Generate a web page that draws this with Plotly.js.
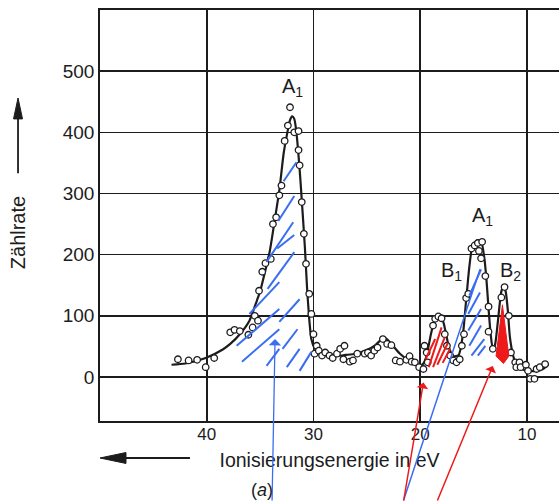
<!DOCTYPE html>
<html><head><meta charset="utf-8">
<script src="https://cdn.plot.ly/plotly-3.0.1.min.js"></script>
<style>html,body{margin:0;padding:0;background:#fff}#plot{width:559px;height:502px}</style>
</head><body><div id="plot"></div>
<script>
// measured points (Ionisierungsenergie in eV, Zählrate)
const pointE = [42.7,41.7,40.9,40.1,39.3,37.8,37.4,36.9,36.1,35.7,35.5,35.2,35.1,34.8,34.5,34.0,33.8,33.5,33.2,33.0,32.7,32.4,32.2,31.8,31.4,31.4,31.3,31.1,30.9,30.7,30.4,30.2,30.0,29.9,29.7,29.5,29.2,28.9,28.5,28.2,27.8,27.5,27.1,27.2,26.6,26.3,25.9,25.2,24.9,24.6,24.3,24.0,23.5,23.1,22.7,22.3,21.9,21.3,21.0,20.8,20.5,20.1,19.7,19.6,19.4,19.3,18.8,18.6,18.3,18.0,17.7,17.5,17.2,16.9,16.6,16.3,16.1,15.9,15.7,15.5,15.2,14.9,14.6,14.2,14.5,14.3,13.9,13.6,13.6,13.2,12.4,12.1,11.7,11.5,11.1,11.0,10.7,10.6,10.1,9.9,9.7,9.3,9.1,8.8,8.3];
const pointV = [29,27,28,16,31,73,77,75,69,81,100,92,141,172,186,193,250,261,297,313,386,411,441,400,402,371,346,286,234,185,136,103,70,38,51,43,35,40,35,31,38,46,51,29,25,27,38,38,40,35,43,48,62,54,52,27,25,28,34,25,24,16,13,51,40,24,84,95,99,96,70,51,35,27,24,29,51,70,129,136,210,215,219,221,206,194,165,115,74,46,130,147,100,40,24,16,24,16,20,10,-3,-3,13,16,21];
// fitted curve
const curveE = [43.3,42.0,40.1,38.5,37.8,36.8,36.0,35.3,35.0,34.5,34.1,33.6,33.2,32.8,32.5,32.2,32.0,31.8,31.6,31.3,31.1,30.8,30.6,30.4,30.2,29.9,29.5,29.0,28.0,27.0,26.1,25.0,24.2,23.6,23.2,22.7,21.9,21.0,20.1,19.7,19.4,19.0,18.7,18.3,17.9,17.6,17.3,16.9,16.4,16.0,15.7,15.4,15.1,14.7,14.3,14.0,13.8,13.6,13.4,13.2,13.0,12.7,12.4,12.2,12.0,11.8,11.6,11.3,11.0,10.5,9.8,9.0,8.5,8.0];
const curveV = [20,22,31,45,54,72,92,125,140,175,205,260,305,365,395,420,426,422,400,340,290,210,145,95,62,47,40,37,34,36,38,44,52,62,63,54,38,26,18,22,35,70,90,99,93,72,48,34,36,70,125,180,215,223,222,195,160,112,70,46,52,95,140,147,140,110,65,35,20,13,10,10,13,20];
const xTicks = [40,30,20,10];
const yTicks = [0,100,200,300,400,500];
const peakLabels = ['A<sub>1</sub>','A<sub>1</sub>','B<sub>1</sub>','B<sub>2</sub>'];
const peakLabelE = [32.0,14.2,17.1,11.5];
const peakLabelV = [474,262,172,173];

// hand-drawn marks (annotation strokes, eV / count)
const blueHatch = [
 [32.8,320,31.6,351],[33.3,255,31.8,296],[34.4,188,31.9,253],[34.3,144,31.8,204],
 [36.0,103,33.2,155],[37.2,51,33.2,111],[36.7,25,33.2,78],[34.4,18,33.2,46],
 [33.2,90,31.3,127],[32.9,46,31.5,78],[32.5,16,31.3,46],[31.3,10,30.2,41],[33.4,210,31.8,232],
 [15.4,133,14.3,176],[15.5,103,14.4,138],[15.5,76,14.3,111],[15.4,51,14.3,84],[15.2,35,14.0,62],[14.6,35,13.9,51]
];
const redHatch = [[19.2,16,18.0,81],[18.8,16,17.7,65],[18.4,20,17.4,56],[17.9,23,17.2,46],[19.5,29,18.6,62]];
const redFillE = [12.9,12.3,11.7,12.2];
const redFillV = [34,118,34,22];

const ink = '#1c1c1c';
const FONT = 'Liberation Sans, Arial, sans-serif';
const traces = [
 {x: curveE, y: curveV, mode: 'lines', line: {shape: 'spline', smoothing: 0.6, color: ink, width: 2.2}, hoverinfo: 'skip'},
 {x: pointE, y: pointV, mode: 'markers', marker: {symbol: 'circle', size: 6.5, color: '#fff', line: {color: ink, width: 1.3}}, hoverinfo: 'skip'}
];

const shapes = [];
blueHatch.forEach(s => shapes.push({type: 'line', xref: 'x', yref: 'y', x0: s[0], y0: s[1], x1: s[2], y1: s[3], line: {color: '#3a6ef0', width: 2}}));
redHatch.forEach(s => shapes.push({type: 'line', xref: 'x', yref: 'y', x0: s[0], y0: s[1], x1: s[2], y1: s[3], line: {color: '#ee1a1a', width: 2}}));
let pth = 'M ' + redFillE.map((e, i) => e + ',' + redFillV[i]).join(' L ') + ' Z';
shapes.push({type: 'path', xref: 'x', yref: 'y', path: pth, fillcolor: '#ee1a1a', line: {color: '#ee1a1a', width: 1}});
// axis direction arrows (paper coordinates)
shapes.push({type: 'line', xref: 'paper', yref: 'paper', x0: 0.05, y0: -0.09, x1: 0.196, y1: -0.09, line: {color: ink, width: 1.8}});
shapes.push({type: 'path', xref: 'paper', yref: 'paper', path: 'M 0,-0.09 L 0.0566,-0.0767 L 0.0566,-0.1033 Z', fillcolor: ink, line: {color: ink, width: 1}});
shapes.push({type: 'line', xref: 'paper', yref: 'paper', x0: -0.1786, y0: 0.75, x1: -0.1786, y1: 0.603, line: {color: ink, width: 1.8}});
shapes.push({type: 'path', xref: 'paper', yref: 'paper', path: 'M -0.1786,0.7859 L -0.1884,0.735 L -0.1688,0.735 Z', fillcolor: ink, line: {color: ink, width: 1}});

const annotations = [];
peakLabels.forEach((t, i) => annotations.push({x: peakLabelE[i], y: peakLabelV[i], xref: 'x', yref: 'y', text: t, showarrow: false, xanchor: 'center', yanchor: 'middle', font: {family: FONT, size: 20, color: ink}}));
// hand-drawn arrows
annotations.push({x: 33.6, y: 62, xref: 'x', yref: 'y', text: '', showarrow: true, ax: -3, ay: 165, arrowhead: 1, arrowsize: 1.6, arrowwidth: 1.3, arrowcolor: '#3a6ef0'});
annotations.push({x: 14.4, y: 176, xref: 'x', yref: 'y', text: '', showarrow: true, ax: -77, ay: 235, arrowhead: 0, arrowwidth: 1.5, arrowcolor: '#3a6ef0'});
annotations.push({x: 19.7, y: -9, xref: 'x', yref: 'y', text: '', showarrow: true, ax: -20, ay: 122, arrowhead: 1, arrowsize: 1.3, arrowwidth: 1.5, arrowcolor: '#ee1a1a'});
annotations.push({x: 13.2, y: 18, xref: 'x', yref: 'y', text: '', showarrow: true, ax: -56, ay: 140, arrowhead: 1, arrowsize: 1.3, arrowwidth: 1.5, arrowcolor: '#ee1a1a'});
annotations.push({x: -0.1786, y: 0.457, xref: 'paper', yref: 'paper', text: 'Zählrate', textangle: -90, showarrow: false, xanchor: 'center', yanchor: 'middle', font: {family: FONT, size: 20, color: ink}});
annotations.push({x: 0.353, y: -0.168, xref: 'paper', yref: 'paper', text: '(<i>a</i>)', showarrow: false, xanchor: 'center', yanchor: 'middle', font: {family: FONT, size: 18, color: ink}});

const layout = {
 width: 559, height: 502,
 margin: {l: 100, r: 0, t: 10, b: 81},
 paper_bgcolor: '#fff', plot_bgcolor: '#fff',
 showlegend: false,
 font: {family: FONT, color: ink},
 xaxis: {range: [50, 7.0], tickvals: xTicks, ticktext: xTicks.map(String), ticks: '', showgrid: true, gridcolor: ink, gridwidth: 1.6,
   zeroline: false, showline: true, linecolor: ink, linewidth: 1.8, mirror: true, tickfont: {size: 17, color: ink}, ticklabelstandoff: -3,
   title: {text: 'Ionisierungsenergie in eV', font: {size: 19.5, color: ink}, standoff: 10}},
 yaxis: {range: [-72, 600], tickvals: yTicks, ticktext: yTicks.map(String), ticks: '', showgrid: true, gridcolor: ink, gridwidth: 1.6,
   zeroline: false, showline: true, linecolor: ink, linewidth: 1.8, mirror: false, tickfont: {size: 19, color: ink}},
 shapes: shapes,
 annotations: annotations
};
Plotly.newPlot('plot', traces, layout, {displayModeBar: false, staticPlot: true});
</script></body></html>
